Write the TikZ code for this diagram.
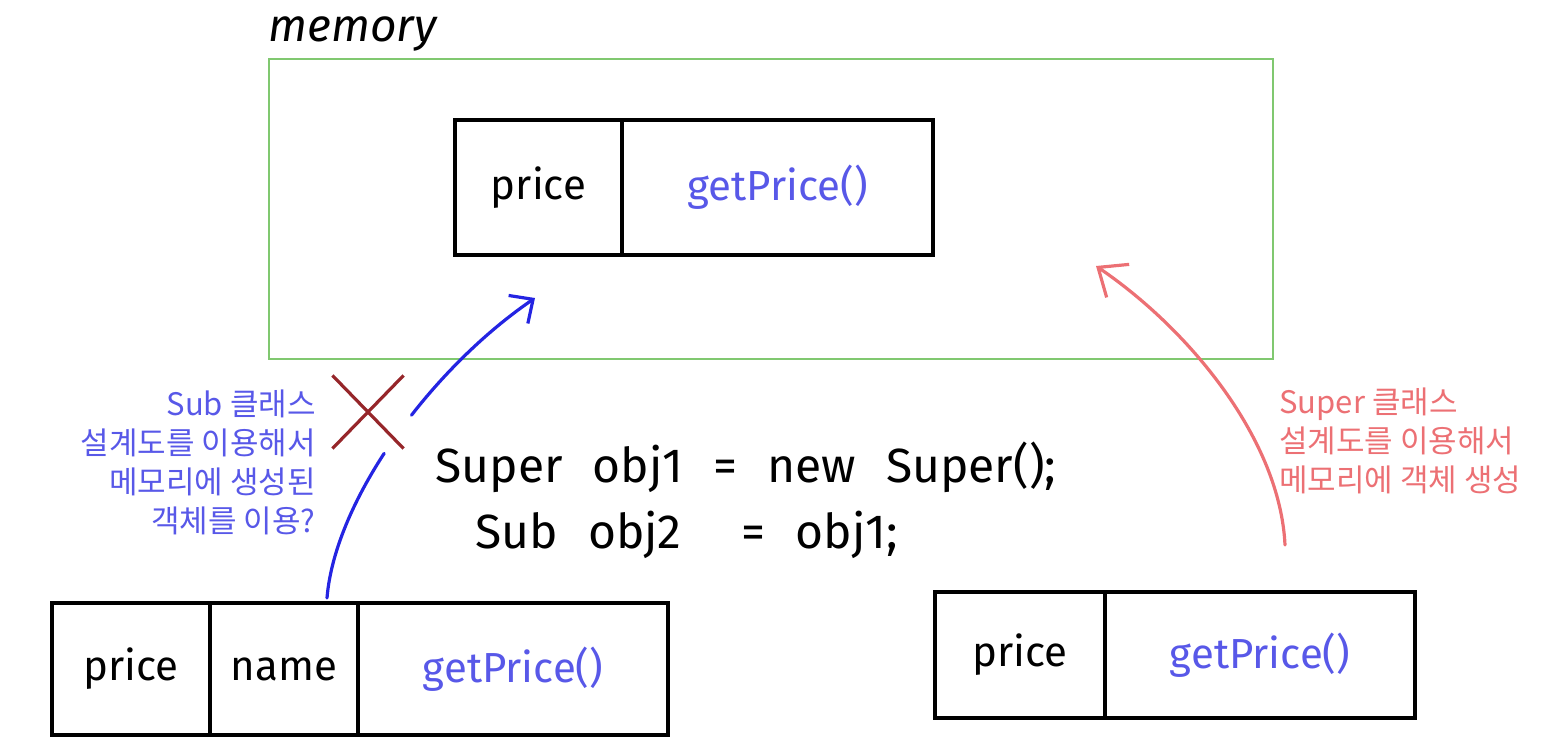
\documentclass[tikz,border=0pt]{standalone}
\usepackage{fontspec}
\setmainfont{Fira Sans}
\newfontfamily\kr{Noto Sans CJK KR}
\usetikzlibrary{positioning,arrows.meta,shapes.misc}
\definecolor{memgreen}{RGB}{128,200,112}
\definecolor{methodblue}{RGB}{88,88,232}
\definecolor{arrowblue}{RGB}{36,36,226}
\definecolor{notered}{RGB}{236,112,116}
\definecolor{crossred}{RGB}{150,38,42}
\newcommand\codefont{\fontsize{24}{30}\selectfont\spaceskip=15pt\relax}
\begin{document}
\begin{tikzpicture}[x=0.5pt, y=-0.5pt,
    cell/.style={draw, line width=2pt, inner sep=0pt, outer sep=0pt,
      minimum height=66pt, font=\fontsize{21}{25}\selectfont},
    method/.style={cell, text=methodblue},
    code/.style={anchor=base west, inner sep=0pt, font=\codefont},
    note/.style={inner sep=0pt, font=\kr\fontsize{15.5}{19.5}\selectfont},
    blue arrow/.style={draw=arrowblue, line width=1.6pt, line cap=round,
      -{Straight Barb[length=9pt, width=17pt]}},
    red arrow/.style={draw=notered, line width=1.6pt, line cap=round,
      -{Straight Barb[length=12pt, width=20pt]}}]
        \useasboundingbox (0,0) rectangle (1558,748);

        % Memory
        \node[draw=memgreen, line width=1pt, minimum width=502pt, minimum height=150pt,
          anchor=north west] (memory) at (268,58) {};
        \node[anchor=base west, inner sep=0pt, font=\itshape\fontsize{23}{28}\selectfont]
          (memlabel) at (268,42) {memory};

        % Object in memory
        \node[cell, minimum width=83.5pt, minimum height=67.5pt, anchor=north west]
          (memprice) at (455,120) {price};
        \node[method, minimum width=155.5pt, minimum height=67.5pt, right=0pt of memprice]
          (memget) {getPrice()};

        % Sub reference
        \node[cell, minimum width=79pt, anchor=north west] (subprice) at (52,603) {price};
        \node[cell, minimum width=74pt, right=0pt of subprice] (subname) {name};
        \node[method, minimum width=155pt, right=0pt of subname] (subget) {getPrice()};

        % Super reference
        \node[cell, minimum width=85pt, minimum height=63pt, anchor=north west]
          (superprice) at (935,592) {price};
        \node[method, minimum width=155pt, minimum height=63pt, right=0pt of superprice]
          (superget) {getPrice()};

        % Code
        \node[code] (line1) at (435,482) {Super obj1 = new Super();};
        \node[code] (line2) at (475,548) {Sub obj2 \ = obj1;};

        % Notes
        \node[note, text=methodblue, align=right, anchor=east] (subnote) at (316,462)
          {Sub 클래스\\설계도를 이용해서\\메모리에 생성된\\객체를 이용?};
        \node[note, text=notered, align=left, anchor=west] (supernote) at (1279,441)
          {Super 클래스\\설계도를 이용해서\\메모리에 객체 생성};

        % Not allowed
        \node[cross out, draw=crossred, line width=1.6pt, minimum width=34pt,
          minimum height=35pt] (nocross) at (368,412) {};

        % Connections
        \coordinate (bluestart) at (327,598);
        \coordinate (blueend) at (535,298);
        \coordinate (redstart) at (1285,545);
        \coordinate (redend) at (1096,266);
        \draw[blue arrow, dash pattern=on 78.5pt off 23.5pt on 300pt]
          (bluestart) .. controls (335,500) and (430,370) .. (blueend);
        \draw[red arrow] (redstart) .. controls (1280,440) and (1190,330) .. (redend);
\end{tikzpicture}
\end{document}
